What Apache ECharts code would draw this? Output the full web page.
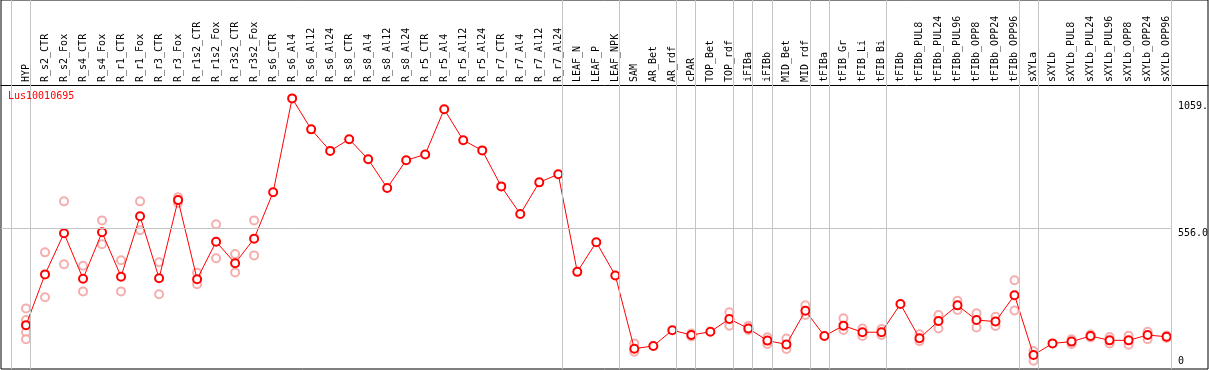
<!DOCTYPE html>
<html>
<head>
<meta charset="utf-8">
<script src="https://cdn.jsdelivr.net/npm/echarts@6/dist/echarts.min.js"></script>
<style>
  html, body { margin: 0; padding: 0; background: #fff; }
  #chart { width: 1209px; height: 370px; }
</style>
</head>
<body>
<div id="chart"></div>
<script>
const geneName = 'Lus10010695'

const categories = [
  'HYP', 'R_s2_CTR', 'R_s2_Fox', 'R_s4_CTR', 'R_s4_Fox', 'R_r1_CTR', 'R_r1_Fox', 'R_r3_CTR', 'R_r3_Fox',
  'R_r1s2_CTR', 'R_r1s2_Fox', 'R_r3s2_CTR', 'R_r3s2_Fox', 'R_s6_CTR', 'R_s6_Al4', 'R_s6_Al12', 'R_s6_Al24',
  'R_s8_CTR', 'R_s8_Al4', 'R_s8_Al12', 'R_s8_Al24', 'R_r5_CTR', 'R_r5_Al4', 'R_r5_Al12', 'R_r5_Al24',
  'R_r7_CTR', 'R_r7_Al4', 'R_r7_Al12', 'R_r7_Al24', 'LEAF_N', 'LEAF_P', 'LEAF_NPK', 'SAM', 'AR_Bet', 'AR_rdf',
  'cPAR', 'TOP_Bet', 'TOP_rdf', 'iFIBa', 'iFIBb', 'MID_Bet', 'MID_rdf', 'tFIBa', 'tFIB_Gr', 'tFIB_Li', 'tFIB_Bi',
  'tFIBb', 'tFIBb_PUL8', 'tFIBb_PUL24', 'tFIBb_PUL96', 'tFIBb_OPP8', 'tFIBb_OPP24', 'tFIBb_OPP96',
  'sXYLa', 'sXYLb', 'sXYLb_PUL8', 'sXYLb_PUL24', 'sXYLb_PUL96', 'sXYLb_OPP8', 'sXYLb_OPP24', 'sXYLb_OPP96'
]

// mean expression per sample
const means = [
  173, 373, 535, 356, 539, 364, 602, 358, 666,
  354, 502, 417, 514, 697, 1067, 945, 860,
  906, 827, 714, 823, 846, 1024, 902, 862,
  720, 611, 736, 768, 383, 500, 369, 80, 91, 153,
  134, 147, 197, 160, 112, 97, 230, 130, 171, 145, 145,
  256, 121, 189, 251, 193, 187, 291,
  55, 101, 108, 130, 113, 113, 134, 127
]

// individual replicates (empty where only the mean is shown)
const replicates = [
  [239, 193, 145, 117], [460, 283], [661, 413], [407, 306], [586, 492], [429, 306], [661, 547], [421, 295], [677, 655],
  [380, 334], [571, 437], [453, 381], [586, 448], [], [], [], [],
  [], [], [], [], [], [], [], [],
  [], [], [], [], [], [], [], [101, 68], [], [],
  [140, 128], [], [224, 171], [170, 154], [125, 99], [120, 79], [251, 213], [], [200, 154], [160, 130], [158, 134],
  [], [137, 110], [213, 160], [269, 233], [220, 164], [206, 170], [350, 231],
  [71, 33], [], [117, 99], [136, 124], [126, 101], [131, 96], [147, 117], [132, 122]
]

// last sample index of each group (separator drawn just after it)
const groupEnds = [-1, 0, 28, 31, 34, 35, 37, 38, 39, 41, 42, 45, 52, 53, 60]

const yTickValues = [0, 556, 1059]
const yTickLabels = ['0', '556.0', '1059.']
const refLineValue = 556

const font = 'DejaVu Sans Mono'
const xMin = -1.315
const xMax = 62.178
const sepShift = 0.23

const meanData = means.map((v, i) => [i, v])
const repData = replicates.flatMap((list, i) => list.map((v) => [i, v]))

const chart = echarts.init(document.getElementById('chart'))

const option = {
  animation: false,
  backgroundColor: '#fff',
  title: {
    text: geneName,
    left: 8,
    top: 91,
    padding: 0,
    textStyle: {
      color: '#ff0000',
      fontSize: 10,
      fontWeight: 'normal',
      fontFamily: font
    }
  },
  grid: {
    left: 1,
    right: 1,
    top: 0,
    bottom: 1,
    show: true,
    borderColor: '#000',
    borderWidth: 1,
    containLabel: false,
    outerBoundsMode: 'none'
  },
  xAxis: [{
    type: 'value',
    position: 'top',
    offset: -85,
    min: xMin,
    max: xMax,
    axisLine: { show: true, onZero: false, lineStyle: { color: '#000', width: 1 } },
    axisTick: { show: false },
    splitLine: { show: false },
    axisLabel: {
      customValues: categories.map((c, i) => i),
      formatter: (v) => categories[Math.round(v)] || '',
      rotate: -90,
      margin: 3,
      color: '#000',
      fontSize: 10,
      fontFamily: font
    }
  }],
  yAxis: [{
    type: 'value',
    position: 'right',
    min: 0,
    max: 1455,
    axisLine: { show: false },
    axisTick: { show: false },
    splitLine: { show: false },
    axisLabel: {
      inside: true,
      margin: 30,
      align: 'left',
      color: '#000',
      fontSize: 10,
      fontFamily: font,
      customValues: yTickValues,
      formatter: (v) => {
        const i = yTickValues.indexOf(v)
        if (i < 0) return ''
        return i === 0 ? `{lo|${yTickLabels[i]}}` : `{hi|${yTickLabels[i]}}`
      },
      rich: {
        lo: { padding: [0, 0, 15, 0], fontSize: 10, fontFamily: font, color: '#000' },
        hi: { padding: [11, 0, 0, 0], fontSize: 10, fontFamily: font, color: '#000' }
      }
    }
  }],
  series: [
    {
      name: 'grid',
      type: 'line',
      data: [],
      z: 1,
      silent: true,
      markLine: {
        silent: true,
        animation: false,
        symbol: ['none', 'none'],
        label: { show: false },
        emphasis: { disabled: true },
        lineStyle: { color: '#c4c4c4', width: 1, type: 'solid' },
        data: [
          ...groupEnds.map((i) => ({ xAxis: i + sepShift })),
          [{ coord: [xMin, refLineValue] }, { coord: [60 + sepShift, refLineValue] }]
        ]
      }
    },
    {
      name: 'replicates',
      type: 'scatter',
      data: repData,
      z: 2,
      symbol: 'emptyCircle',
      symbolSize: 8,
      itemStyle: {
        color: '#f29a9a',
        borderColor: '#f29a9a',
        borderWidth: 1
      }
    },
    {
      name: 'mean',
      type: 'line',
      data: meanData,
      z: 3,
      symbol: 'emptyCircle',
      symbolSize: 8,
      lineStyle: { color: '#ff0000', width: 1 },
      itemStyle: {
        color: '#ff0000',
        borderColor: '#ff0000',
        borderWidth: 1.2
      }
    }
  ]
}

chart.setOption(option)
</script>
</body>
</html>
